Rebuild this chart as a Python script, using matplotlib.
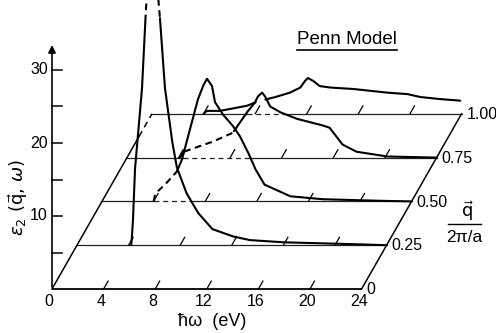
import numpy as np
import matplotlib
matplotlib.use("Agg")
import matplotlib.pyplot as plt

plt.rcParams['font.family'] = ['Liberation Sans', 'DejaVu Sans']
plt.rcParams['mathtext.fontset'] = 'dejavusans'

# shift of one unit of q in the oblique drawing (eV along x, eps2 along y)
dE = 7.75
dEps = 24.0

q_list = [0.0, 0.25, 0.50, 0.75, 1.00]
q_labels = ['0', '0.25', '0.50', '0.75', '1.00']
e_ticks = [0, 4, 8, 12, 16, 20, 24]
e_marks = [4, 8, 12, 16, 20]
eps_minor = [5, 15, 25]
eps_major = [10, 20, 30]

# eps2(q, hw) (q = 0 is a delta at the gap, not drawn)
e_025 = [4.2, 4.26, 4.34, 4.5, 5.04, 5.35, 5.5, 6.2, 6.43, 6.82, 7.36, 7.75,
         8.5, 9.4, 10.5, 12.1, 13.4, 16.0, 20.4, 24.0]
eps_025 = [0.0, 1.2, 3.5, 10.5, 21.5, 32.5, 36.0, 36.0, 31.1, 21.5, 14.4, 10.6,
           7.1, 4.4, 2.2, 1.2, 0.7, 0.4, 0.2, 0.0]

e_050 = [4.0, 4.1, 4.34, 5.04, 5.81, 6.2, 6.82, 7.44, 7.83, 8.14, 8.53, 8.76,
         9.38, 10.16, 10.7, 11.3, 11.9, 12.6, 14.6, 17.1, 21.0, 24.0]
eps_050 = [0.0, 0.8, 1.4, 2.6, 4.1, 5.75, 9.9, 14.0, 15.8, 16.8, 15.8, 13.6,
           11.9, 10.3, 8.9, 6.8, 4.4, 2.3, 0.7, 0.3, 0.1, 0.0]

e_075 = [4.1, 4.4, 4.88, 6.67, 8.2, 9.3, 9.9, 10.16, 10.47, 10.7, 11.1, 11.9,
         13.2, 15.0, 15.7, 16.1, 16.7, 17.8, 20.2, 24.0]
eps_075 = [0.0, 0.8, 1.1, 2.2, 3.4, 6.2, 7.5, 8.4, 8.9, 8.4, 7.0, 6.2,
           5.3, 4.5, 4.1, 3.2, 1.8, 0.8, 0.15, 0.0]

e_100 = [4.0, 4.26, 5.27, 7.36, 8.37, 9.38, 10.7, 11.5, 11.86, 12.09, 12.5, 13.0,
         13.8, 15.6, 18.2, 19.8, 20.8, 22.1, 23.9]
eps_100 = [0.0, 0.4, 0.4, 1.1, 1.8, 2.2, 2.9, 3.6, 4.5, 4.9, 4.5, 3.8,
           3.6, 3.4, 2.9, 2.7, 2.3, 2.05, 1.8]

curves = {0.25: (e_025, eps_025), 0.5: (e_050, eps_050),
          0.75: (e_075, eps_075), 1.0: (e_100, eps_100)}


def proj(e, eps, q):
    return np.asarray(e, float) + q * dE, np.asarray(eps, float) + q * dEps


def densify(x, y, n=12):
    xs, ys = [x[0]], [y[0]]
    t = np.linspace(0, 1, n + 1)[1:]
    for i in range(len(x) - 1):
        xs.extend(x[i] + (x[i + 1] - x[i]) * t)
        ys.extend(y[i] + (y[i + 1] - y[i]) * t)
    return np.array(xs), np.array(ys)


def hidden_by(x, y, qf):
    # behind the wall of the curve just in front of it
    if qf not in curves:
        return np.zeros(len(x), bool)
    ef, epsf = curves[qf]
    top = np.interp(x - qf * dE, ef, epsf, left=0.0, right=0.0) + qf * dEps
    return y < top - 0.05


def runs(flags):
    start = 0
    for i in range(1, len(flags) + 1):
        if i == len(flags) or flags[i] != flags[start]:
            yield start, i, flags[start]
            start = i


fig = plt.figure(figsize=(4.96, 3.33), dpi=100)
ax = fig.add_axes([0, 0, 1, 1])
ax.set_xlim(-52 / 12.9, (496 - 52) / 12.9)
ax.set_ylim((289 - 333) / 7.3, 289 / 7.3)
ax.axis('off')

k = 'black'
curve_dash = (0, (3.2, 2.2))
base_dash = (0, (4, 3))

# baselines with slanted tick marks
for q in q_list:
    bx, by = densify(*proj([0, 24], [0, 0], q), n=300)
    if q == 0:
        ax.plot(bx, by, color=k, lw=1.3, solid_capstyle='butt')
    else:
        foot = curves[q][0][0]
        hid = hidden_by(bx, by, q - 0.25) & (bx - q * dE >= foot)
        seg = hid[:-1] & hid[1:]
        for s, e, f in runs(seg):
            ax.plot(bx[s:e + 1], by[s:e + 1], color='#222222', lw=0.9,
                    linestyle=base_dash if f else '-')
    for em in e_marks:
        tx, ty = proj([em, em + 0.04 * 0], [0, 0], q)
        ax.plot([tx[0], tx[0] + 0.045 * dE], [ty[0], ty[0] + 0.045 * dEps],
                color=k, lw=0.9)

# oblique q edges
lx, ly = proj([0, 0], [0, 0], 0)
ax.plot([0, 0.87 * dE], [0, 0.87 * dEps], color=k, lw=1.1)
ax.plot([0.87 * dE, dE], [0.87 * dEps, dEps], color=k, lw=1.1, linestyle=base_dash)
ax.plot([24, 24 + dE], [0, dEps], color=k, lw=1.1)

# eps2 curves
for q, (e, eps) in curves.items():
    cx, cy = densify(*proj(e, eps, q))
    hid = hidden_by(cx, cy, q - 0.25)
    if q == 0.25:
        hid = cy > 30.5 + q * dEps
    seg = hid[:-1] & hid[1:]
    for s, en, f in runs(seg):
        if f and q == 1.0:
            continue
        ax.plot(cx[s:en + 1], cy[s:en + 1], color=k, lw=1.5,
                linestyle=curve_dash if f else '-', solid_capstyle='round')

# vertical axis
ax.annotate('', xy=(0, 33.8), xytext=(0, -0.1),
            arrowprops=dict(arrowstyle='-|>', lw=1.2, color=k, mutation_scale=11))
for v in eps_minor + eps_major:
    ax.plot([0, 0.78], [v, v], color=k, lw=1.1)
for v in eps_major:
    ax.annotate(str(v), (0, v), xytext=(-3, 0), textcoords='offset points',
                ha='right', va='center', fontsize=11.5)

# energy tick labels
for e in e_ticks:
    ax.annotate(str(e), (e, 0), xytext=(-2, -9), textcoords='offset points',
                ha='center', va='center', fontsize=11.5)

# q labels at right end of baselines
for q, lab in zip(q_list, q_labels):
    ax.annotate(lab, (24 + q * dE, q * dEps), xytext=(3.5, -0.5),
                textcoords='offset points', ha='left', va='center', fontsize=11.5)

fig.text(467 / 496, 1 - 211 / 333, r'$\vec{\mathrm{q}}$', ha='center', va='center',
         fontsize=13)
fig.add_artist(plt.Line2D([448 / 496, 481 / 496], [1 - 224 / 333, 1 - 224 / 333],
                          color=k, lw=1.0))
fig.text(464 / 496, 1 - 238 / 333, '2π/a', ha='center', va='center', fontsize=12.5)

fig.text(212 / 496, 1 - 322 / 333, 'ħω  (eV)', ha='center', va='center', fontsize=13)
fig.text(18 / 496, 1 - 197 / 333, r'$\varepsilon_2\ (\vec{\mathrm{q}},\,\omega)$',
         rotation=90, ha='center', va='center', fontsize=13)

fig.text(347 / 496, 1 - 39 / 333, 'Penn Model', ha='center', va='center',
         fontsize=13.5)
fig.add_artist(plt.Line2D([297 / 496, 397 / 496], [1 - 49.5 / 333, 1 - 49.5 / 333],
                          color=k, lw=1.2))

fig.savefig('out.png', dpi=100)
